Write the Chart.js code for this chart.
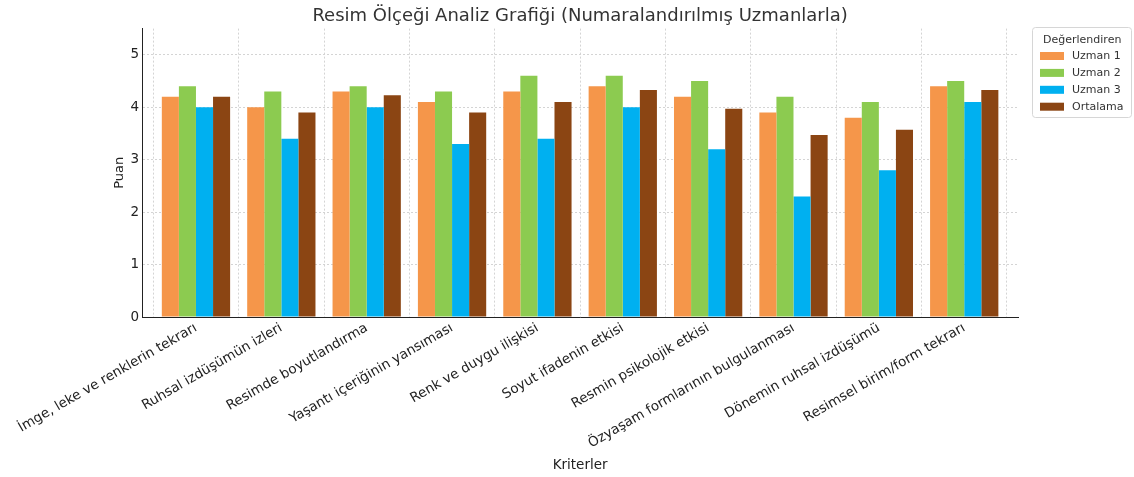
<!DOCTYPE html>
<html lang="tr">
<head>
<meta charset="utf-8">
<title>Resim Ölçeği Analiz Grafiği</title>
<script src="https://cdn.jsdelivr.net/npm/chart.js@4"></script>
<style>
  html, body { margin: 0; padding: 0; background: #fff; }
  #wrap { width: 1134px; height: 477px; position: relative; }
</style>
</head>
<body>
<div id="wrap"><canvas id="chart"></canvas></div>
<script>
// --- data ---
const kriterler = [
    'İmge, leke ve renklerin tekrarı',
    'Ruhsal izdüşümün izleri',
    'Resimde boyutlandırma',
    'Yaşantı içeriğinin yansıması',
    'Renk ve duygu ilişkisi',
    'Soyut ifadenin etkisi',
    'Resmin psikolojik etkisi',
    'Özyaşam formlarının bulgulanması',
    'Dönemin ruhsal izdüşümü',
    'Resimsel birim/form tekrarı'
];
const uzman1 = [4.2, 4.0, 4.3, 4.1, 4.3, 4.4, 4.2, 3.9, 3.8, 4.4];
const uzman2 = [4.4, 4.3, 4.4, 4.3, 4.6, 4.6, 4.5, 4.2, 4.1, 4.5];
const uzman3 = [4.0, 3.4, 4.0, 3.3, 3.4, 4.0, 3.2, 2.3, 2.8, 4.1];
const ortalama = [4.2, 3.9, 4.23, 3.9, 4.1, 4.33, 3.97, 3.47, 3.57, 4.33];
const yTicks = [0, 1, 2, 3, 4, 5];

const font = "'DejaVu Sans', sans-serif";
Chart.defaults.font.family = font;
Chart.defaults.color = '#333';

function toPoints(values) {
    return values.map((v, i) => ({ x: i, y: v }));
}

// matplotlib-style legend box outside the plot, on the right
const sideLegend = {
    id: 'sideLegend',
    afterDraw(chart) {
        const ctx = chart.ctx;
        const x0 = 1032, y0 = 27, w = 99, h = 90;
        ctx.save();
        ctx.fillStyle = 'rgba(255,255,255,0.8)';
        ctx.strokeStyle = '#d6d6d6';
        ctx.lineWidth = 1;
        ctx.beginPath();
        ctx.roundRect(x0 + 0.5, y0 + 0.5, w, h, 3);
        ctx.fill();
        ctx.stroke();

        ctx.fillStyle = '#333';
        ctx.font = '11px ' + font;
        ctx.textBaseline = 'middle';
        ctx.textAlign = 'left';
        ctx.fillText('Değerlendiren', x0 + 11, y0 + 13);

        chart.data.datasets.forEach((ds, i) => {
            const cy = y0 + 29 + i * 16.9;
            ctx.fillStyle = ds.backgroundColor;
            ctx.fillRect(x0 + 8, cy - 4, 24, 8);
            ctx.fillStyle = '#333';
            ctx.fillText(ds.label, x0 + 40, cy);
        });
        ctx.restore();
    }
};

const gridStyle = {
    color: '#d4d4d4',
    drawTicks: false
};

new Chart(document.getElementById('chart'), {
    type: 'bar',
    data: {
        datasets: [
            { label: 'Uzman 1', data: toPoints(uzman1), backgroundColor: '#F5964A' },
            { label: 'Uzman 2', data: toPoints(uzman2), backgroundColor: '#8CCB50' },
            { label: 'Uzman 3', data: toPoints(uzman3), backgroundColor: '#00B0F0' },
            { label: 'Ortalama', data: toPoints(ortalama), backgroundColor: '#8B4513' }
        ]
    },
    options: {
        responsive: true,
        maintainAspectRatio: false,
        animation: false,
        layout: { padding: { left: 112, right: 116, top: 0, bottom: 0 } },
        datasets: { bar: { categoryPercentage: 0.8, barPercentage: 1.0 } },
        scales: {
            x: {
                type: 'linear',
                min: -0.63,
                max: 9.63,
                offset: false,
                grid: gridStyle,
                border: { color: '#222', width: 1, dash: [2, 2] },
                afterBuildTicks: axis => { axis.ticks = kriterler.map((k, i) => ({ value: i })); },
                afterFit: axis => { axis.height = 160; },
                ticks: {
                    autoSkip: false,
                    minRotation: 30,
                    maxRotation: 30,
                    padding: 3,
                    font: { size: 13.5 },
                    color: '#222',
                    callback: v => kriterler[v] ?? ''
                },
                title: { display: true, text: 'Kriterler', font: { size: 13.5 }, color: '#222', padding: { top: 0, bottom: 3 } }
            },
            y: {
                min: 0,
                max: 5.5,
                grid: gridStyle,
                border: { color: '#222', width: 1, dash: [2, 2] },
                afterBuildTicks: axis => { axis.ticks = yTicks.map(v => ({ value: v })); },
                ticks: { font: { size: 13.5 }, color: '#222', padding: 3 },
                title: { display: true, text: 'Puan', font: { size: 13 }, color: '#222', padding: { top: 0, bottom: 0 } }
            }
        },
        plugins: {
            title: {
                display: true,
                fullSize: false,
                text: 'Resim Ölçeği Analiz Grafiği (Numaralandırılmış Uzmanlarla)',
                font: { size: 18, weight: 'normal' },
                color: '#333',
                padding: { top: 6, bottom: 1 }
            },
            legend: { display: false },
            tooltip: { enabled: false }
        }
    },
    plugins: [sideLegend]
});
</script>
</body>
</html>
